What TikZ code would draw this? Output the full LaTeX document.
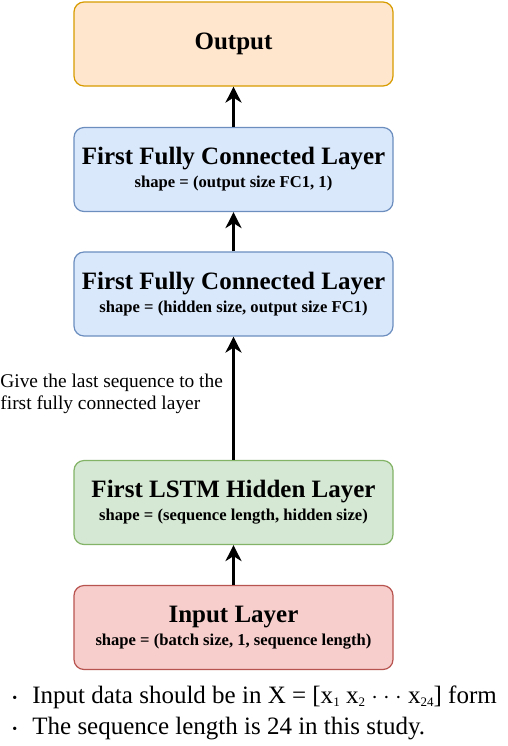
\documentclass[tikz,border=0pt]{standalone}
\usepackage{fontspec}
\setmainfont{Liberation Serif}
\usetikzlibrary{arrows.meta}
\definecolor{outfill}{HTML}{FFE6CC}
\definecolor{outdraw}{HTML}{D79B00}
\definecolor{fcfill}{HTML}{DAE8FC}
\definecolor{fcdraw}{HTML}{6C8EBF}
\definecolor{lstmfill}{HTML}{D5E8D4}
\definecolor{lstmdraw}{HTML}{82B366}
\definecolor{infill}{HTML}{F8CECC}
\definecolor{indraw}{HTML}{B85450}
\newcommand{\layertitle}[1]{{\fontsize{12.5}{15}\selectfont\bfseries #1}}
\newcommand{\layershape}[1]{{\fontsize{8.3}{10}\selectfont\bfseries #1}}
\newcommand{\smallbul}{\makebox[10pt][l]{\raisebox{0.5pt}{\fontsize{7}{7}\selectfont\textbullet}}}
\newcommand{\sub}[1]{\raisebox{-1.5pt}{\fontsize{6.5}{6.5}\selectfont #1}}
\begin{document}
\begin{tikzpicture}[
    x=0.5pt, y=-0.5pt,
    layer/.style={rectangle, rounded corners=5pt, line width=0.6pt, minimum width=159.5pt, minimum height=42pt, align=center, inner sep=0pt},
    link/.style={-{Stealth[length=8pt, width=8pt, inset=2.5pt]}, line width=1.4pt}
]
    \useasboundingbox (0,0) rectangle (508,746);

    % Layers
    \node[layer, draw=outdraw, fill=outfill] (out) at (233.5,44) {\layertitle{Output}};
    \node[layer, draw=fcdraw, fill=fcfill] (fc2) at (233.5,169.5) {\layertitle{First Fully Connected Layer}\\[-0.5pt]\layershape{shape = (output size FC1, 1)}};
    \node[layer, draw=fcdraw, fill=fcfill] (fc1) at (233.5,294) {\layertitle{First Fully Connected Layer}\\[-0.5pt]\layershape{shape = (hidden size, output size FC1)}};
    \node[layer, draw=lstmdraw, fill=lstmfill] (lstm) at (233.5,502.5) {\layertitle{First LSTM Hidden Layer}\\[-0.5pt]\layershape{shape = (sequence length, hidden size)}};
    \node[layer, draw=indraw, fill=infill] (in) at (233.5,627.5) {\layertitle{Input Layer}\\[-0.5pt]\layershape{shape = (batch size, 1, sequence length)}};

    % Connections
    \draw[link] (in) -- (lstm);
    \draw[link] (lstm) -- (fc1);
    \draw[link] (fc1) -- (fc2);
    \draw[link] (fc2) -- (out);

    % Notes
    \node[anchor=west, align=left, inner sep=0pt, font=\fontsize{9.7}{11}\selectfont] (lastseq) at (0,394) {Give the last sequence to the\\first fully connected layer};
    \node[anchor=west, align=left, inner sep=0pt, font=\fontsize{12.5}{15.5}\selectfont] (notes) at (12,713) {\smallbul Input data should be in X = [x\sub{1} x\sub{2} $\cdot\cdot\cdot$ x\sub{24}] form\\\smallbul The sequence length is 24 in this study.};
\end{tikzpicture}
\end{document}
